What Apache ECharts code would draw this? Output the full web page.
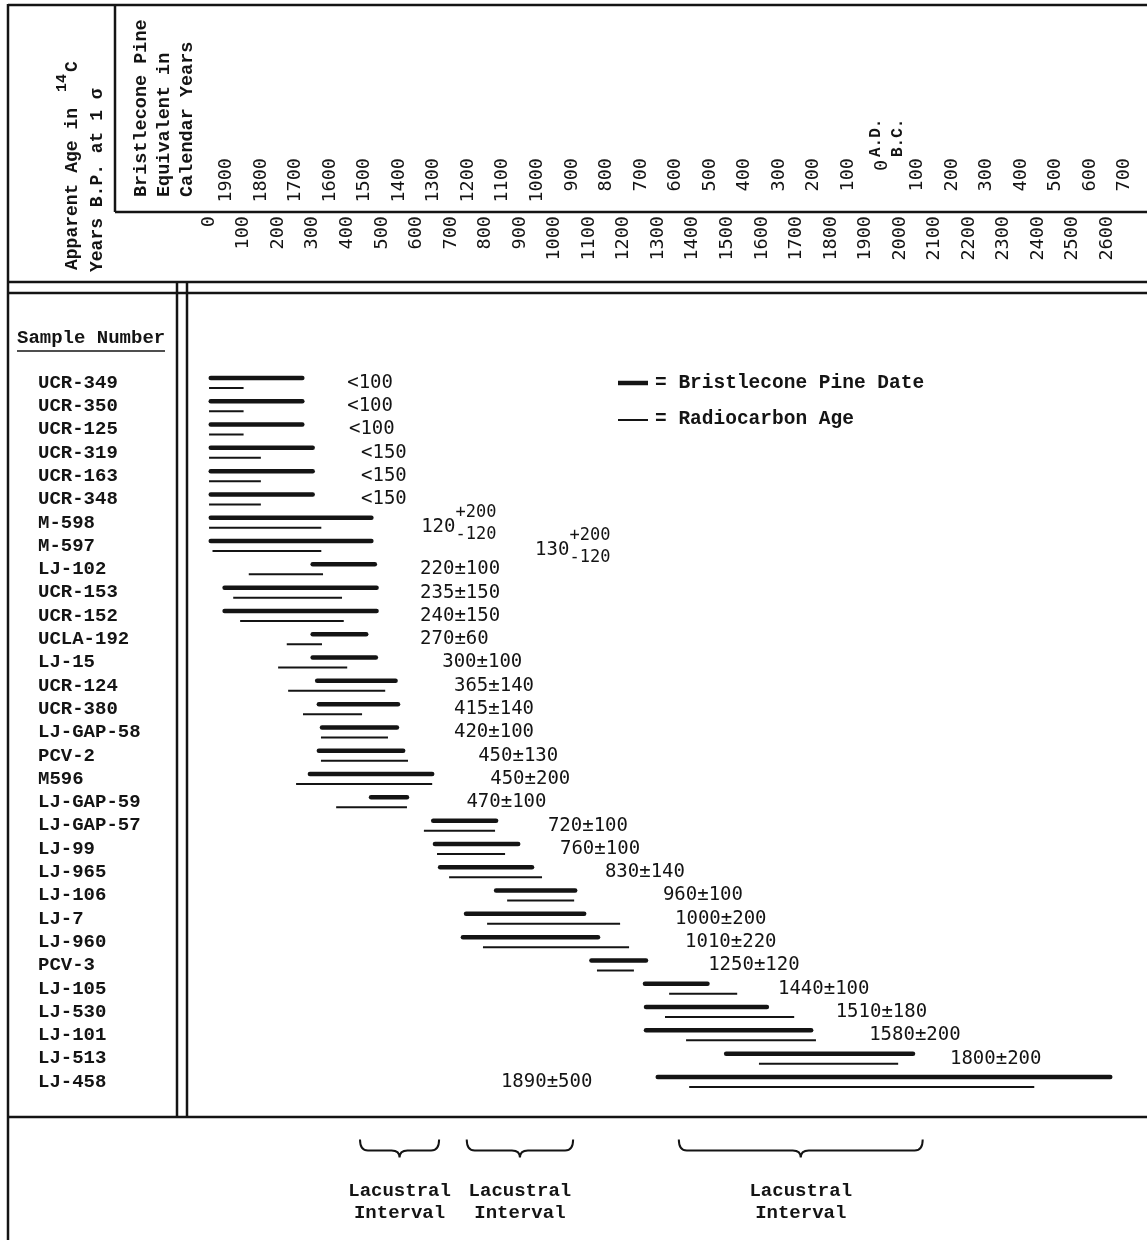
<!DOCTYPE html>
<html>
<head>
<meta charset="utf-8">
<script src="https://cdn.jsdelivr.net/npm/echarts@6/dist/echarts.min.js"></script>
<style>html,body{margin:0;padding:0;background:#fff}#c{width:1147px;height:1240px}</style>
</head>
<body>
<div id="c"></div>
<script>
// ---------------- data ----------------
const samples = ['UCR-349','UCR-350','UCR-125','UCR-319','UCR-163','UCR-348','M-598','M-597','LJ-102','UCR-153','UCR-152','UCLA-192','LJ-15','UCR-124','UCR-380','LJ-GAP-58','PCV-2','M596','LJ-GAP-59','LJ-GAP-57','LJ-99','LJ-965','LJ-106','LJ-7','LJ-960','PCV-3','LJ-105','LJ-530','LJ-101','LJ-513','LJ-458'];
// Bristlecone pine date ranges, calendar years (A.D. positive, B.C. negative)
const pineFrom = [1945,1945,1945,1945,1945,1945,1945,1945,1650,1905,1905,1650,1650,1637,1632,1623,1632,1658,1481,1301,1296,1281,1119,1206,1215,843,688,685,685,453,651];
const pineTo   = [1680,1680,1680,1650,1650,1650,1480,1480,1470,1465,1465,1495,1467,1410,1403,1406,1388,1304,1377,1119,1055,1015,890,864,824,685,507,335,207,-88,-659];
// Radiocarbon age ranges, 14C years B.P.
const c14From = [0,0,0,0,0,0,0,10,115,70,90,225,200,229,272,324,324,252,368,622,660,695,863,805,793,1123,1332,1320,1381,1592,1390];
const c14To   = [100,100,100,150,150,150,325,325,330,385,390,327,400,510,443,518,576,646,573,828,857,964,1057,1190,1216,1230,1529,1694,1757,1995,2389];
// Radiocarbon ages as printed (null sigma = upper limit "<")
const c14Age   = [100,100,100,150,150,150,120,130,220,235,240,270,300,365,415,420,450,450,470,720,760,830,960,1000,1010,1250,1440,1510,1580,1800,1890];
const c14Plus  = [null,null,null,null,null,null,200,200,100,150,150,60,100,140,140,100,130,200,100,100,100,140,100,200,220,120,100,180,200,200,500];
const c14Minus = [null,null,null,null,null,null,120,120,100,150,150,60,100,140,140,100,130,200,100,100,100,140,100,200,220,120,100,180,200,200,500];
// where each printed age sits along the 14C axis (years B.P.)
const c14LabelAt = [400,400,405,440,440,440,614,944,611,611,611,611,675,709,709,709,779,814,745,981,1016,1146,1314,1349,1378,1445,1647,1814,1911,2145,845];
// tick label ranges
const c14TickFirst = 0, c14TickLast = 2600;
const calTickFirst = 1900, calTickLast = -700;
// lacustral intervals, calendar years
const lacustralFrom = [1513,1204,590];
const lacustralTo   = [1284,896,-116];
const lacustralText = 'Lacustral\nInterval';
const eraZero = [0];

// ---------------- layout / style ----------------
const INK = '#141414';
const MONO = '"Liberation Mono", "DejaVu Sans Mono", monospace';
const SANSMONO = '"DejaVu Sans Mono", monospace';
const GRID_LEFT = 174.5, GRID_W = 1019, GRID_TOP = 371.3, ROW_H = 23.3;
const GRID_H = ROW_H * samples.length;
const GRID_BOTTOM = GRID_TOP + GRID_H;
const CAL_AXIS_Y = 156, C14_AXIS_Y = 214;

const chart = echarts.init(document.getElementById('c'), null, {renderer: 'canvas'});

function c14Label(i) {
  if (c14Plus[i] == null) return '<' + c14Age[i];
  return c14Age[i] + '\u00b1' + c14Plus[i];
}

function L(x1, y1, x2, y2, w) {
  return {type: 'line', shape: {x1, y1, x2, y2}, style: {stroke: INK, lineWidth: w || 2.5}, silent: true};
}
function rotText(text, x, y, size, weight, family) {
  return {type: 'text', x, y, rotation: Math.PI / 2,
    style: {text, fill: INK, font: (weight || 'bold') + ' ' + size + 'px ' + (family || MONO), align: 'left', verticalAlign: 'middle'}};
}

const frame = [
  L(8, 5, 1147, 5), L(8, 4, 8, 1240),
  L(115, 5, 115, 212), L(115, 212, 1147, 212),
  L(8, 282, 1147, 282), L(8, 293, 1147, 293),
  L(177, 282, 177, 1117), L(187, 282, 187, 1117),
  L(8, 1117, 1147, 1117),
  // Sample Number underline
  L(17, 351, 165, 351, 1.6),
  // legend marks
  L(618, 383, 648, 383, 4.5), L(618, 420, 648, 420, 2)
];
const texts = [
  rotText('Apparent Age in', 72, 270, 18),
  rotText('14', 62, 92, 15),
  rotText('C', 72, 72, 18),
  rotText('Years B.P. at 1 \u03c3', 97, 272, 18),
  rotText('Bristlecone Pine', 141, 197, 18.5),
  rotText('Equivalent in', 164, 197, 18.5),
  rotText('Calendar Years', 187, 197, 18.5),
  {type: 'text', x: 17, y: 338, style: {text: 'Sample Number', fill: INK, font: 'bold 19px ' + MONO, align: 'left', verticalAlign: 'middle'}},
  {type: 'text', x: 655, y: 383, style: {text: '= Bristlecone Pine Date', fill: INK, font: 'bold 19.5px ' + MONO, align: 'left', verticalAlign: 'middle'}},
  {type: 'text', x: 655, y: 419, style: {text: '= Radiocarbon Age', fill: INK, font: 'bold 19.5px ' + MONO, align: 'left', verticalAlign: 'middle'}}
];

const option = {
  animation: false,
  backgroundColor: '#ffffff',
  grid: {left: GRID_LEFT, top: GRID_TOP, width: GRID_W, height: GRID_H, containLabel: false, outerBoundsMode: 'none'},
  xAxis: [
    { // 14C years B.P.
      type: 'value', min: -100, max: 2850, interval: 100, position: 'bottom',
      offset: C14_AXIS_Y - GRID_BOTTOM,
      axisLine: {show: false}, axisTick: {show: false}, splitLine: {show: false},
      axisLabel: {rotate: 90, margin: 2, color: INK, fontFamily: SANSMONO, fontSize: 18.5,
        formatter: v => (v >= c14TickFirst && v <= c14TickLast) ? String(v) : ''}
    },
    { // calendar years (A.D. / B.C.)
      type: 'value', min: -900, max: 2050, interval: 100, inverse: true, position: 'bottom',
      offset: CAL_AXIS_Y - GRID_BOTTOM,
      axisLine: {show: false}, axisTick: {show: false}, splitLine: {show: false},
      axisLabel: {rotate: 90, margin: 2, color: INK, fontFamily: SANSMONO, fontSize: 18.5,
        formatter: v => (v === 0 || v > calTickFirst || v < calTickLast) ? '' : String(Math.abs(v))}
    }
  ],
  yAxis: {
    type: 'category', data: samples, inverse: true,
    axisLine: {show: false}, axisTick: {show: false}, splitLine: {show: false},
    axisLabel: {interval: 0, align: 'left', margin: GRID_LEFT - 38, color: INK, fontFamily: MONO, fontWeight: 'bold', fontSize: 19}
  },
  graphic: frame.concat(texts),
  series: [
    { // Bristlecone pine date (thick)
      name: 'Bristlecone Pine Date', type: 'custom', xAxisIndex: 1, yAxisIndex: 0, clip: false,
      encode: {x: [0, 1], y: 2},
      data: samples.map((s, i) => [pineFrom[i], pineTo[i], i]),
      renderItem: (p, api) => {
        const a = api.coord([api.value(0), api.value(2)]);
        const b = api.coord([api.value(1), api.value(2)]);
        return {type: 'line', shape: {x1: a[0], y1: a[1] - 5, x2: b[0], y2: b[1] - 5},
          style: {stroke: INK, lineWidth: 4.5, lineCap: 'round'}};
      }
    },
    { // Radiocarbon age (thin)
      name: 'Radiocarbon Age', type: 'custom', xAxisIndex: 0, yAxisIndex: 0, clip: false,
      encode: {x: [0, 1], y: 2},
      data: samples.map((s, i) => [c14From[i], c14To[i], i]),
      renderItem: (p, api) => {
        const a = api.coord([api.value(0), api.value(2)]);
        const b = api.coord([api.value(1), api.value(2)]);
        return {type: 'line', shape: {x1: a[0], y1: a[1] + 5, x2: b[0], y2: b[1] + 5},
          style: {stroke: INK, lineWidth: 2, lineCap: 'butt'}};
      }
    },
    { // printed radiocarbon ages
      name: 'ages', type: 'custom', xAxisIndex: 0, yAxisIndex: 0, clip: false,
      encode: {x: 0, y: 1},
      data: samples.map((s, i) => [c14LabelAt[i], i]),
      renderItem: (p, api) => {
        const i = p.dataIndex;
        const pt = api.coord([api.value(0), api.value(1)]);
        const font = '19px ' + SANSMONO;
        if (c14Plus[i] != null && c14Plus[i] !== c14Minus[i]) {
          const main = String(c14Age[i]);
          const w = main.length * 19 * 0.602;
          const small = '17px ' + SANSMONO;
          return {type: 'group', children: [
            {type: 'text', x: pt[0], y: pt[1] + 4, style: {text: main, font, fill: INK, align: 'left', verticalAlign: 'middle'}},
            {type: 'text', x: pt[0] + w, y: pt[1] - 10, style: {text: '+' + c14Plus[i], font: small, fill: INK, align: 'left', verticalAlign: 'middle'}},
            {type: 'text', x: pt[0] + w, y: pt[1] + 12, style: {text: '-' + c14Minus[i], font: small, fill: INK, align: 'left', verticalAlign: 'middle'}}
          ]};
        }
        return {type: 'text', x: pt[0], y: pt[1], style: {text: c14Label(i), font, fill: INK, align: 'left', verticalAlign: 'middle'}};
      }
    },
    { // 0 A.D./B.C. marker on the calendar scale
      name: 'era', type: 'custom', xAxisIndex: 1, yAxisIndex: 0, clip: false,
      encode: {x: 0},
      data: eraZero.map(v => [v, 0]),
      renderItem: (p, api) => {
        const x = api.coord([api.value(0), 0])[0];
        return {type: 'group', children: [
          rotText('0', x, 171, 18.5, 'normal', SANSMONO),
          rotText('A.D.', x - 7, 157, 16, 'bold', MONO),
          rotText('B.C.', x + 15, 157, 16, 'bold', MONO)
        ]};
      }
    },
    { // lacustral intervals
      name: 'lacustral', type: 'custom', xAxisIndex: 1, yAxisIndex: 0, clip: false,
      encode: {x: [0, 1]},
      data: lacustralFrom.map((v, i) => [v, lacustralTo[i], 0]),
      renderItem: (p, api) => {
        const a = api.coord([api.value(0), 0])[0];
        const b = api.coord([api.value(1), 0])[0];
        const base = p.coordSys.y + p.coordSys.height;
        const y0 = base + 46, yl = base + 57, yt = base + 64, m = (a + b) / 2, r = 8;
        const d = `M${a},${y0} Q${a},${yl} ${a + r},${yl} L${m - r},${yl} Q${m},${yl} ${m},${yt} Q${m},${yl} ${m + r},${yl} L${b - r},${yl} Q${b},${yl} ${b},${y0}`;
        return {type: 'group', children: [
          {type: 'path', shape: {pathData: d}, style: {stroke: INK, fill: null, lineWidth: 2}},
          {type: 'text', x: m, y: base + 87, style: {text: lacustralText, fill: INK, font: 'bold 19px ' + MONO, align: 'center', verticalAlign: 'top', lineHeight: 22}}
        ]};
      }
    }
  ]
};
chart.setOption(option);
</script>
</body>
</html>
